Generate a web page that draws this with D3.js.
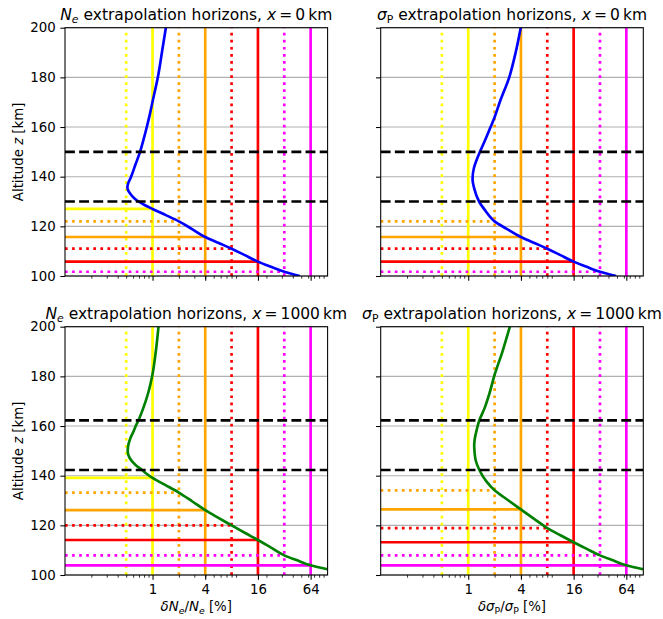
<!DOCTYPE html>
<html><head><meta charset="utf-8">
<script src="https://cdn.jsdelivr.net/npm/d3@7"></script>
<style>
body{margin:0;background:#fff}
svg text{font-family:"DejaVu Sans",sans-serif}
</style>
</head><body>
<svg id="c" width="663" height="619"></svg>
<script>
// ---------------- data ----------------
const altTicks = [100, 120, 140, 160, 180, 200];
const xTickValues = [1, 4, 16, 64];
const xTickLabels = ["1", "4", "16", "64"];
const xMinorTicks = [0.2,0.3,0.4,0.5,0.6,0.7,0.8,0.9,2,3,4,5,6,7,8,9,20,30,40,50,60,70,80,90];
const xDomain = [0.1, 100];
const altDomain = [100, 200];

const thresholdsSolid  = [1, 4, 16, 64];
const thresholdsDotted = [0.5, 2, 8, 32];
const thresholdColors  = ["#ffff00", "#ffa500", "#ff0000", "#ff00ff"];

// curves: [altitude km, relative error %]
const neX0 = [[100,48],[101.7,32],[103.7,22.5],[105.8,16],[108.4,11.3],[111,8],[113.3,5.7],[115.7,4],
  [119,2.8],[122,2],[124.5,1.42],[127,1.0],[128.5,0.82],[130,0.69],[131.5,0.61],[133,0.56],[134.3,0.53],
  [135.6,0.516],[137.2,0.525],[139.7,0.565],[145,0.64],[150,0.72],[155,0.79],[160,0.86],[165,0.93],[170.2,1.0],
  [180,1.15],[190,1.28],[200,1.42]];
const sigX0 = [[100,49],[101.7,32],[103.7,22.5],[105.8,16],[108.4,11.3],[111,8],[113.3,5.7],[115.7,4],
  [119,2.75],[122,2],[124,1.76],[125.9,1.6],[130,1.33],[135.3,1.17],[139.2,1.12],[143.4,1.16],[146.5,1.24],
  [150,1.36],[155,1.57],[160,1.8],[163.5,1.98],[170.2,2.3],[180,2.94],[190,3.48],[200,3.98]];
const neX1000 = [[102.3,100],[103.9,64],[105.9,45],[107.9,32],[111,22.6],[114.1,16],[117,11.3],[120,8],
  [123,5.66],[126.1,4],[129.7,2.83],[133.2,2],[136.2,1.41],[139.1,1.0],[141,0.84],[142.3,0.76],[144.3,0.64],
  [147,0.55],[149.7,0.52],[152.5,0.53],[155,0.557],[158,0.61],[160.4,0.65],[162.3,0.69],[167,0.78],
  [173.8,0.9],[180,0.99],[190,1.09],[200,1.17]];
const sigX1000 = [[102.3,100],[103.9,64],[105.9,45],[107.9,32],[110.5,22.6],[113.2,16],[116,11.3],[118.9,8],
  [122.6,5.66],[126.4,4],[130.2,2.83],[134.1,2],[137.6,1.62],[142.3,1.34],[146,1.22],[149.7,1.18],
  [152.4,1.17],[155,1.19],[158.5,1.25],[162.3,1.34],[167,1.53],[173.8,1.77],[180.1,1.98],[190,2.46],[200,2.99]];

// extrapolation horizons: [threshold %, altitude km]
const horizonsNeX0 = [[1,127],[2,122],[4,115.7],[8,111],[16,105.8],[32,101.7]];
const horizonsSigX0 = [[2,122],[4,115.7],[8,111],[16,105.8],[32,101.7]];
const horizonsNeX1000 = [[1,139.1],[2,133.2],[4,126.1],[8,120],[16,114.1],[32,107.9],[64,103.9]];
const horizonsSigX1000 = [[2,134.1],[4,126.4],[8,118.9],[16,113.2],[32,107.9],[64,103.9]];

// fitting range (dashed)
const bandX0 = [130, 150];
const bandX1000 = [142.3, 162.3];

// ---------------- drawing ----------------
const svg = d3.select("#c");
const PW = 262.6, PH = 248.3;
const LW = 2.67;
const FS = 13.33;
const TFS = 15.5;
const TS = "\u2009";

const panels = [
  {x0:65,    y0:27.7,  curve:neX0,     hz:horizonsNeX0,     band:bandX0,    color:"#0000ff",
   title:[{t:"N",i:1},{t:"e",i:1,s:1},{t:" extrapolation horizons, "},{t:"x",i:1},{t:TS+"="+TS+"0"+TS+"km"}], left:true, bottom:false,
   xlab:null},
  {x0:380.7, y0:27.7,  curve:sigX0,    hz:horizonsSigX0,    band:bandX0,    color:"#0000ff",
   title:[{t:"σ",i:1},{t:"P",s:1},{t:" extrapolation horizons, "},{t:"x",i:1},{t:TS+"="+TS+"0"+TS+"km"}], left:false, bottom:false,
   xlab:null},
  {x0:65,    y0:326.7, curve:neX1000,  hz:horizonsNeX1000,  band:bandX1000, color:"#008000",
   title:[{t:"N",i:1},{t:"e",i:1,s:1},{t:" extrapolation horizons, "},{t:"x",i:1},{t:TS+"="+TS+"1000"+TS+"km"}], left:true, bottom:true,
   xlab:[{t:"δN",i:1},{t:"e",i:1,s:1},{t:"/"},{t:"N",i:1},{t:"e",i:1,s:1},{t:" [%]"}]},
  {x0:380.7, y0:326.7, curve:sigX1000, hz:horizonsSigX1000, band:bandX1000, color:"#008000",
   title:[{t:"σ",i:1},{t:"P",s:1},{t:" extrapolation horizons, "},{t:"x",i:1},{t:TS+"="+TS+"1000"+TS+"km"}], left:false, bottom:true,
   xlab:[{t:"δσ",i:1},{t:"P",s:1},{t:"/"},{t:"σ",i:1},{t:"P",s:1},{t:" [%]"}]}
];

function rich(sel, parts, fs){
  let shift = 0;
  parts.forEach(p => {
    const ts = sel.append("tspan").text(p.t);
    if (p.i) ts.attr("font-style","italic");
    const target = p.s ? 0.22*fs : 0;
    if (target !== shift){ ts.attr("dy", (target-shift).toFixed(2)); shift = target; }
    if (p.s) ts.attr("font-size", (0.7*fs).toFixed(2));
  });
}

const defs = svg.append("defs");

panels.forEach((p, k) => {
  const x = d3.scaleLog().domain(xDomain).range([p.x0, p.x0+PW]);
  const y = d3.scaleLinear().domain(altDomain).range([p.y0+PH, p.y0]);

  defs.append("clipPath").attr("id","clip"+k).append("rect")
    .attr("x",p.x0).attr("y",p.y0).attr("width",PW).attr("height",PH);

  const g = svg.append("g");
  // grid
  g.selectAll(".grid").data(altTicks).join("line")
    .attr("x1",p.x0).attr("x2",p.x0+PW).attr("y1",d=>y(d)).attr("y2",d=>y(d))
    .attr("stroke","#b0b0b0").attr("stroke-width",1.07);

  const pg = g.append("g").attr("clip-path","url(#clip"+k+")");

  // vertical threshold lines (drawn bottom to top)
  thresholdsDotted.forEach((t,i)=>{
    pg.append("line").attr("x1",x(t)).attr("x2",x(t)).attr("y1",y(altDomain[0])).attr("y2",y(altDomain[1]))
      .attr("stroke",thresholdColors[i]).attr("stroke-width",LW).attr("stroke-dasharray",`${LW} ${1.65*LW}`);
  });
  thresholdsSolid.forEach((t,i)=>{
    pg.append("line").attr("x1",x(t)).attr("x2",x(t)).attr("y1",y(altDomain[0])).attr("y2",y(altDomain[1]))
      .attr("stroke",thresholdColors[i]).attr("stroke-width",LW);
  });

  // horizon lines
  p.hz.forEach(([t,a])=>{
    let idx = thresholdsSolid.indexOf(t), dotted = false;
    if (idx < 0){ idx = thresholdsDotted.indexOf(t); dotted = true; }
    const ln = pg.append("line").attr("x1",x(xDomain[0])).attr("x2",x(t)).attr("y1",y(a)).attr("y2",y(a))
      .attr("stroke",thresholdColors[idx]).attr("stroke-width",LW);
    if (dotted) ln.attr("stroke-dasharray",`${LW} ${1.65*LW}`);
  });

  // curve (x as monotone function of altitude; sorted so that pixel y increases)
  const pts = p.curve.slice().sort((a,b)=>b[0]-a[0]);
  const line = d3.line().x(d=>x(d[1])).y(d=>y(d[0])).curve(d3.curveMonotoneY);
  pg.append("path").datum(pts).attr("d",line).attr("fill","none")
    .attr("stroke",p.color).attr("stroke-width",LW).attr("stroke-linejoin","round");

  // dashed fitting band
  p.band.forEach(a=>{
    pg.append("line").attr("x1",x(xDomain[0])).attr("x2",x(xDomain[1])).attr("y1",y(a)).attr("y2",y(a))
      .attr("stroke","#000").attr("stroke-width",LW).attr("stroke-dasharray",`${3.7*LW} ${1.6*LW}`);
  });

  // axes
  const xMaj = d3.axisBottom(x).tickValues(xTickValues).tickSize(4.67).tickPadding(4.67)
    .tickFormat((d,i)=> p.bottom ? xTickLabels[i] : "");
  const xMin = d3.axisBottom(x).tickValues(xMinorTicks).tickSize(2.67).tickFormat("");
  const yAx = d3.axisLeft(y).tickValues(altTicks).tickSize(4.67).tickPadding(4.67)
    .tickFormat(d=> p.left ? d : "");

  const gx = g.append("g").attr("transform",`translate(0,${p.y0+PH})`).call(xMaj);
  const gxm = g.append("g").attr("transform",`translate(0,${p.y0+PH})`).call(xMin);
  const gy = g.append("g").attr("transform",`translate(${p.x0},0)`).call(yAx);
  [gx,gxm,gy].forEach(a=>{
    a.select(".domain").remove();
    a.selectAll("text").attr("font-size",FS).attr("fill","#000").attr("font-family","DejaVu Sans");
    a.selectAll("line").attr("stroke","#000");
  });
  gx.selectAll("line").attr("stroke-width",1.07);
  gy.selectAll("line").attr("stroke-width",1.07);
  gxm.selectAll("line").attr("stroke-width",0.8);

  // spines
  g.append("rect").attr("x",p.x0).attr("y",p.y0).attr("width",PW).attr("height",PH)
    .attr("fill","none").attr("stroke","#000").attr("stroke-width",1.07);

  // title
  const tt = g.append("text").attr("x",p.x0+PW/2).attr("y",p.y0-8).attr("text-anchor","middle")
    .attr("font-size",TFS).attr("fill","#000");
  rich(tt, p.title, TFS);

  // y label
  if (p.left){
    const yl = g.append("text").attr("transform",`translate(23,${p.y0+PH/2}) rotate(-90)`)
      .attr("text-anchor","middle").attr("font-size",FS).attr("fill","#000");
    rich(yl, [{t:"Altitude "},{t:"z",i:1},{t:" [km]"}], FS);
  }
  // x label
  if (p.xlab){
    const xl = g.append("text").attr("x",p.x0+PW/2).attr("y",611).attr("text-anchor","middle")
      .attr("font-size",FS).attr("fill","#000");
    rich(xl, p.xlab, FS);
  }
});
</script>
</body></html>
